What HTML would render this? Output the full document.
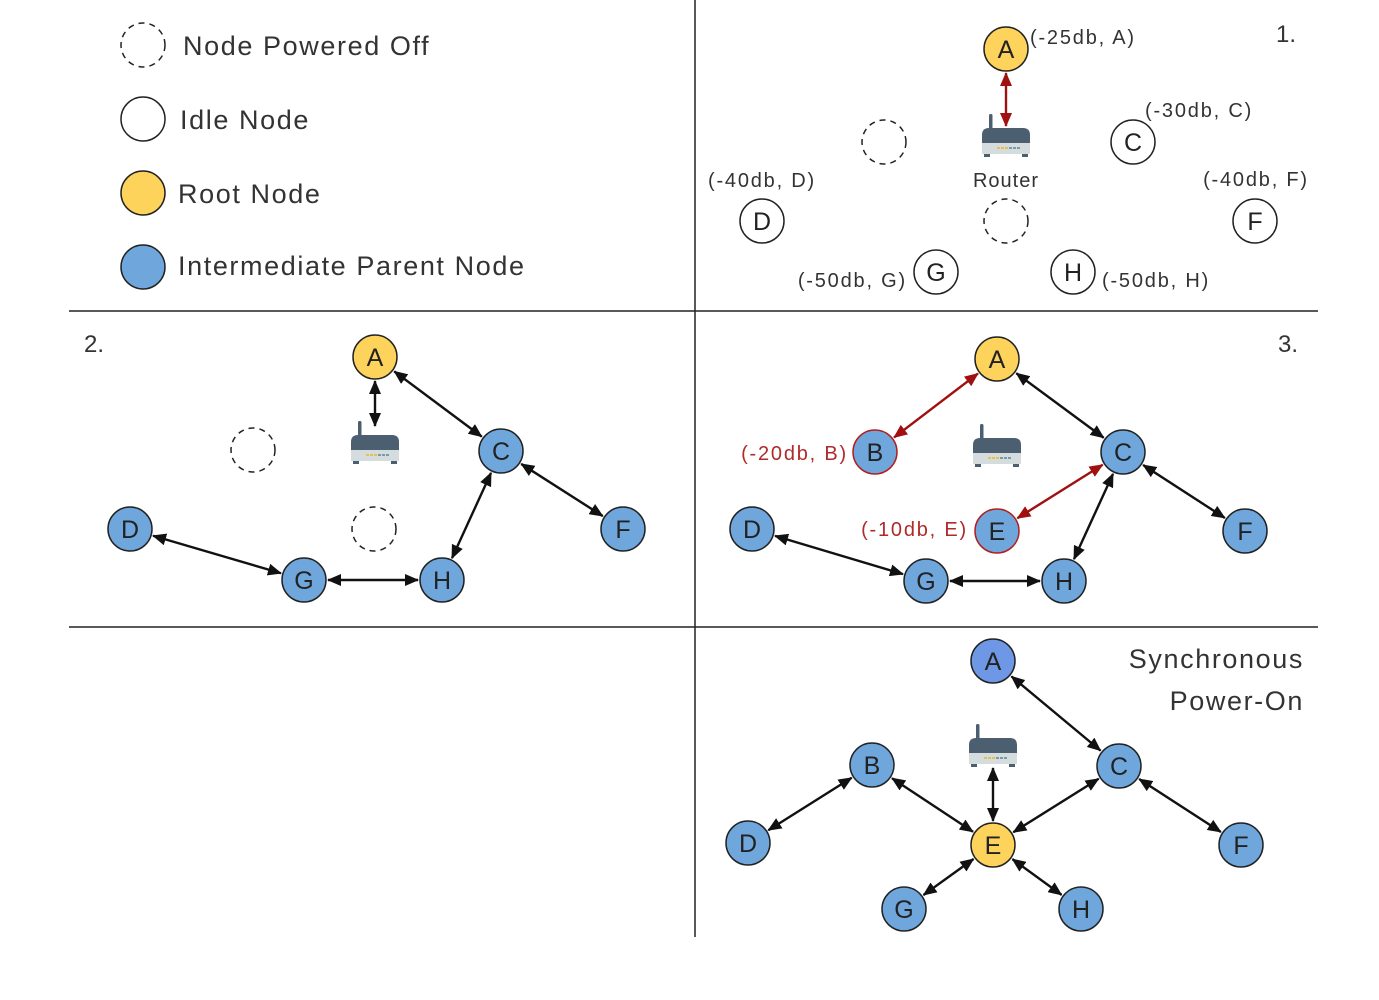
<!DOCTYPE html>
<html><head><meta charset="utf-8"><style>
html,body{margin:0;padding:0;background:#fff;}
svg{display:block;font-family:"Liberation Sans","DejaVu Sans",sans-serif;}
</style></head><body>
<svg id="s" width="1379" height="1000" viewBox="0 0 1379 1000" xmlns="http://www.w3.org/2000/svg">
<defs>
<marker id="ak" markerWidth="14" markerHeight="12" refX="13" refY="6" orient="auto-start-reverse" markerUnits="userSpaceOnUse"><path d="M0,0 L14,6 L0,12 Z" fill="#111"/></marker>
<marker id="ar" markerWidth="14" markerHeight="12" refX="13" refY="6" orient="auto-start-reverse" markerUnits="userSpaceOnUse"><path d="M0,0 L14,6 L0,12 Z" fill="#a01010"/></marker>
</defs>
<line x1="695" y1="0" x2="695" y2="937" stroke="#222" stroke-width="1.5"/>
<line x1="69" y1="311" x2="1318" y2="311" stroke="#222" stroke-width="1.5"/>
<line x1="69" y1="627" x2="1318" y2="627" stroke="#222" stroke-width="1.5"/>
<g id="g"></g>
</svg>
<script>
const NS="http://www.w3.org/2000/svg",G=document.getElementById('g');
function el(t,a,txt){const e=document.createElementNS(NS,t);for(const k in a)e.setAttribute(k,a[k]);if(txt!==undefined)e.textContent=txt;G.appendChild(e);return e;}
const R=22;
const Y="#fdd35c",B="#6fa6dc",P="#6e97e6";
function node(x,y,fill,lab,opt={}){
  el('circle',{cx:x,cy:y,r:R,fill:fill||'#fff',stroke:opt.stroke||'#222','stroke-width':opt.sw||1.5,'stroke-dasharray':opt.dash?'6,5':'none'});
  if(lab)el('text',{x:x,y:y+9,'text-anchor':'middle','font-size':25,fill:'#222'},lab);
}
function txt(x,y,s,size,anchor,col,ls){el('text',{x:x,y:y,'font-size':size,'text-anchor':anchor||'start',fill:col||'#333','letter-spacing':ls||0},s);}
function router(x,y){
  el('rect',{x:x-17,y:y-28,width:3.5,height:16,fill:'#4b5f70',rx:1.5});
  el('path',{d:`M${x-24},${y+1} L${x-24},${y-7} Q${x-24},${y-14} ${x-17},${y-14} L${x+17},${y-14} Q${x+24},${y-14} ${x+24},${y-7} L${x+24},${y+1} Z`,fill:'#4b5f70'});
  el('rect',{x:x-24,y:y+1,width:48,height:11,fill:'#d5dcde'});
  el('rect',{x:x-22,y:y+12,width:6,height:3,fill:'#4b5f70'});
  el('rect',{x:x+16,y:y+12,width:6,height:3,fill:'#4b5f70'});
  for(let i=0;i<6;i++)el('rect',{x:x-9+i*4,y:y+5,width:3,height:2,fill:i<3?'#e8c050':'#7a9aa8'});
}
function arrow(x1,y1,x2,y2,r1,r2,red){
  const dx=x2-x1,dy=y2-y1,d=Math.hypot(dx,dy),ux=dx/d,uy=dy/d;
  const m=red?'url(#ar)':'url(#ak)';
  el('line',{x1:x1+ux*r1,y1:y1+uy*r1,x2:x2-ux*r2,y2:y2-uy*r2,stroke:red?'#a01010':'#111','stroke-width':2.4,'marker-start':m,'marker-end':m});
}
const L=1.6,S=1.8;
node(143,45,null,'',{dash:1});txt(183,55,'Node Powered Off',27,'start','#333',L);
node(143,119,null,'');txt(180,129,'Idle Node',27,'start','#333',L);
node(143,193,Y,'');txt(178,203,'Root Node',27,'start','#333',L);
node(143,267,B,'');txt(178,275,'Intermediate Parent Node',27,'start','#333',L);
txt(1276,42,'1.',24);
arrow(1006,49,1006,128,24,2,true);
node(1006,49,Y,'A');txt(1030,44,'(-25db, A)',20,'start','#333',S);
router(1006,142);txt(1006,187,'Router',20,'middle','#333',1);
node(884,142,null,'',{dash:1});node(1006,221,null,'',{dash:1});
node(1133,142,null,'C');txt(1145,117,'(-30db, C)',20,'start','#333',S);
node(762,221,null,'D');txt(762,187,'(-40db, D)',20,'middle','#333',S);
node(1255,221,null,'F');txt(1256,186,'(-40db, F)',20,'middle','#333',S);
node(936,272,null,'G');txt(907,287,'(-50db, G)',20,'end','#333',S);
node(1073,272,null,'H');txt(1102,287,'(-50db, H)',20,'start','#333',S);
txt(84,352,'2.',24);
arrow(375,357,375,432,24,6);
arrow(375,357,501,451,24,24);arrow(501,451,623,529,24,24);arrow(501,451,442,580,24,24);
arrow(442,580,304,580,24,24);arrow(304,580,130,529,24,24);
router(375,449);
node(253,450,null,'',{dash:1});node(374,529,null,'',{dash:1});
node(375,357,Y,'A');node(501,451,B,'C');node(623,529,B,'F');node(130,529,B,'D');node(304,580,B,'G');node(442,580,B,'H');
txt(1278,352,'3.',24);
arrow(997,359,875,452,24,24,true);arrow(997,531,1123,452,24,24,true);
arrow(997,359,1123,452,24,24);arrow(1123,452,1245,531,24,24);arrow(1123,452,1064,581,24,24);
arrow(1064,581,926,581,24,24);arrow(926,581,752,529,24,24);
router(997,452);
node(997,359,Y,'A');node(875,452,B,'B',{stroke:'#b02020'});node(997,531,B,'E',{stroke:'#b02020'});
txt(848,460,'(-20db, B)',20,'end','#b02a2a',S);txt(968,536,'(-10db, E)',20,'end','#b02a2a',S);
node(1123,452,B,'C');node(1245,531,B,'F');node(752,529,B,'D');node(926,581,B,'G');node(1064,581,B,'H');
txt(1304,668,'Synchronous',27,'end','#333',L);txt(1304,710,'Power-On',27,'end','#333',L);
arrow(993,661,1119,766,24,24);arrow(1119,766,1241,845,24,24);arrow(1119,766,993,845,24,24);
arrow(872,765,993,845,24,24);arrow(872,765,748,843,24,24);arrow(993,766,993,845,2,24);
arrow(993,845,904,909,24,24);arrow(993,845,1081,909,24,24);
router(993,752);
node(993,661,P,'A');node(872,765,B,'B');node(1119,766,B,'C');node(748,843,B,'D');node(993,845,Y,'E');
node(1241,845,B,'F');node(904,909,B,'G');node(1081,909,B,'H');
</script>
</body></html>
